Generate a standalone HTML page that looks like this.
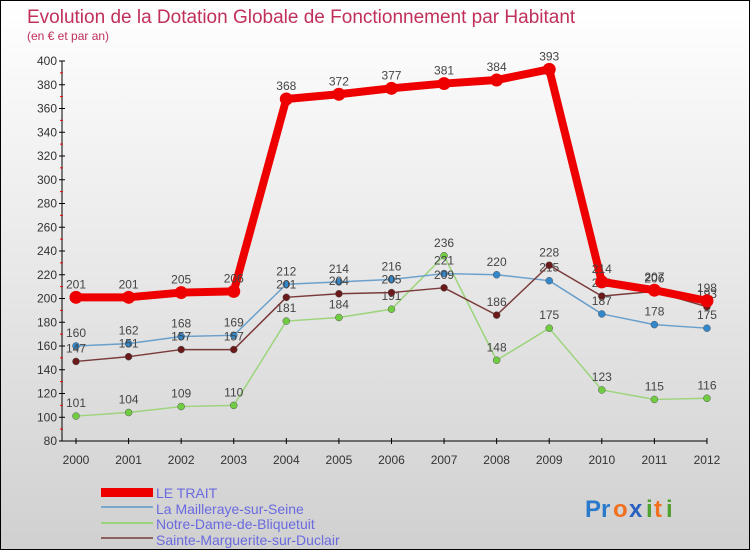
<!DOCTYPE html>
<html><head><meta charset="utf-8"><style>
body{margin:0;}
#c{width:748px;height:548px;border:1px solid #000;background:linear-gradient(#fff,#d0d0d0);position:relative;overflow:hidden;font-family:"Liberation Sans",sans-serif;}
svg{position:absolute;left:0;top:0;}
</style></head><body>
<div id="c">
<svg id="s" width="748" height="548">
<text x="26" y="22" font-size="19" fill="#c0305a">Evolution de la Dotation Globale de Fonctionnement par Habitant</text>
<text x="26" y="39" font-size="12" fill="#c0305a">(en € et par an)</text>
<g id="axes"></g><g id="series"></g>
<g>
<rect x="100" y="487" width="52" height="9" fill="#e00"/>
<text x="155" y="497" font-size="14" fill="#6a6ae0">LE TRAIT</text>
<rect x="100" y="505" width="52" height="2" fill="#7aa8cc"/>
<text x="155" y="513" font-size="14" fill="#6a6ae0">La Mailleraye-sur-Seine</text>
<rect x="100" y="521" width="52" height="2" fill="#9cd47c"/>
<text x="155" y="528" font-size="14" fill="#6a6ae0">Notre-Dame-de-Bliquetuit</text>
<rect x="100" y="536" width="52" height="2" fill="#8a6060"/>
<text x="155" y="544" font-size="14" fill="#6a6ae0">Sainte-Marguerite-sur-Duclair</text>
</g>
<g font-size="24" font-weight="bold">
<text x="584" y="516" fill="#2a7acc">P</text><text x="600" y="516" fill="#2a7acc">r</text><text x="612" y="516" fill="#f07020">o</text><text x="628" y="516" fill="#2a60c0">x</text><text x="645" y="516" fill="#50a030">i</text><text x="653" y="516" fill="#f07020">t</text><text x="665" y="516" fill="#50a030">i</text>
</g>
</svg></div>
<script>
const years=[2000,2001,2002,2003,2004,2005,2006,2007,2008,2009,2010,2011,2012];
const yTicks=[80,100,120,140,160,180,200,220,240,260,280,300,320,340,360,380,400];
const leTrait=[201,201,205,206,368,372,377,381,384,393,214,207,198];
const mailleraye=[160,162,168,169,212,214,216,221,220,215,187,178,175];
const notreDame=[101,104,109,110,181,184,191,236,148,175,123,115,116];
const sainteMarguerite=[147,151,157,157,201,204,205,209,186,228,202,206,193];
const NS="http://www.w3.org/2000/svg";
function X(i){return 75+i*52.58;}
function Y(v){return 60+(400-v)*380/320;}
function mk(t,a,p){const e=document.createElementNS(NS,t);for(const k in a)e.setAttribute(k,a[k]);p.appendChild(e);return e;}
const ax=document.getElementById('axes');
const ya=mk('line',{x1:61,y1:60,x2:61,y2:440,stroke:'#000','stroke-width':1},ax);


const xa=mk('line',{x1:61,y1:440,x2:706,y2:440,stroke:'#000','stroke-width':1},ax);


yTicks.forEach(v=>{
 mk('line',{x1:58,y1:Y(v),x2:64,y2:Y(v),stroke:'#000'},ax);
 mk('line',{x1:59,y1:Y(v)-11.9,x2:62,y2:Y(v)-11.9,stroke:v<400?'#e00':'none'},ax);
 const t=mk('text',{x:56,y:Y(v)+4,'font-size':12,fill:'#333','text-anchor':'end'},ax);t.textContent=v;
 
 
});
years.forEach((y,i)=>{
 mk('line',{x1:X(i),y1:437,x2:X(i),y2:443,stroke:'#000'},ax);
 const t=mk('text',{x:X(i),y:463,'font-size':12,fill:'#333','text-anchor':'middle'},ax);t.textContent=y;
 
 
});
const sg=document.getElementById('series');
function series(d,col,dot,w,r,name){
 const g=mk('g',{},sg);
 
 
 mk('polyline',{points:d.map((v,i)=>X(i)+','+Y(v)).join(' '),fill:'none',stroke:col,'stroke-width':w,'stroke-linejoin':'round'},g);
 d.forEach((v,i)=>{
  const c=mk('circle',{cx:X(i),cy:Y(v),r:r,fill:dot,stroke:w>3?'none':'#555','stroke-width':0.5},g);
  
  
  const t=mk('text',{x:X(i),y:Y(v)-9,'font-size':12,fill:'#444','text-anchor':'middle'},g);t.textContent=v;
  
  
 });
}
series(notreDame,'#9cd47c','#70cc40',1.5,3.5,'series-notre-dame');
series(mailleraye,'#6aa0cc','#3388cc',1.5,3.5,'series-la-mailleraye');
series(sainteMarguerite,'#7a3a3a','#6a1a1a',1.5,3.5,'series-sainte-marguerite');
series(leTrait,'#ee0000','#ee0000',8,6.5,'series-le-trait');
</script>
</body></html>
